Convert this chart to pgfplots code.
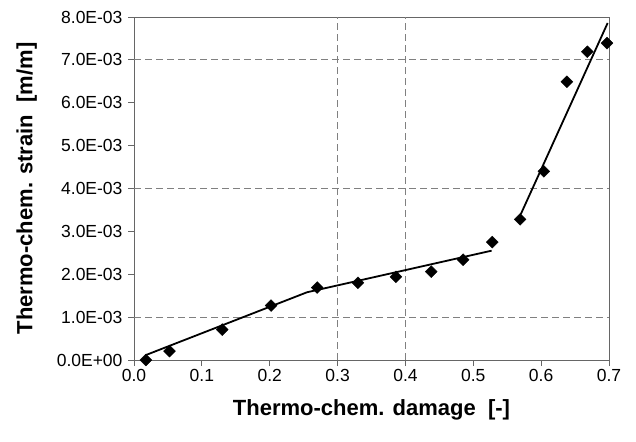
\documentclass[border=0pt]{standalone}
\usepackage{fontspec}
\setmainfont{Liberation Sans}
\usepackage{pgfplots}
\pgfplotsset{compat=1.18}
\begin{document}
\begin{tikzpicture}
\begin{axis}[
  scale only axis,
  width=475pt, height=343pt,
  xmin=0, xmax=0.7, ymin=0, ymax=0.008,
  xtick={0,0.1,0.2,0.3,0.4,0.5,0.6,0.7},
  xticklabels={0.0,0.1,0.2,0.3,0.4,0.5,0.6,0.7},
  ytick={0,0.001,0.002,0.003,0.004,0.005,0.006,0.007,0.008},
  yticklabels={0.0E+00,1.0E-03,2.0E-03,3.0E-03,4.0E-03,5.0E-03,6.0E-03,7.0E-03,8.0E-03},
  scaled y ticks=false, scaled x ticks=false,
  xtick pos=bottom, ytick pos=left,
  tick align=outside,
  major tick length=6pt,
  tick style={black!60, line width=0.8pt},
  axis line style={black!60, line width=0.9pt},
  tick label style={font=\fontsize{17.5}{20}\selectfont},
  yticklabel style={xshift=-2pt},
  xlabel={Thermo-chem. damage\ \ [-]},
  ylabel={Thermo-chem. strain\ \ [m/m]},
  label style={font=\fontsize{22}{24}\selectfont\bfseries},
  xlabel style={at={(axis description cs:0.5,-0.1458)}, anchor=center},
  ylabel style={at={(axis description cs:-0.2260,0.5)}, anchor=center},
]
\begin{scope}[black!50, line width=0.8pt, dash pattern=on 7pt off 4pt]
\draw (axis cs:0.3,0) -- (axis cs:0.3,0.008);
\draw (axis cs:0.4,0) -- (axis cs:0.4,0.008);
\draw (axis cs:0,0.001) -- (axis cs:0.7,0.001);
\draw (axis cs:0,0.004) -- (axis cs:0.7,0.004);
\draw (axis cs:0,0.007) -- (axis cs:0.7,0.007);
\end{scope}
% fitted lines
\addplot[black, line width=1.8pt, no marks] coordinates {
(0.0174,0.000115) (0.255,0.00158) (0.527,0.00255)
};
\addplot[black, line width=1.8pt, no marks] coordinates {
(0.570,0.0034) (0.698,0.00786)
};
% measured points
\addplot[only marks, mark=square*, mark size=4.2pt, mark options={rotate=45, fill=black, draw=black}] coordinates {
(0.0174,0.0)
(0.0523,0.000208)
(0.130,0.000708)
(0.202,0.00127)
(0.270,0.00169)
(0.330,0.00180)
(0.386,0.00194)
(0.438,0.00206)
(0.485,0.00234)
(0.528,0.00275)
(0.569,0.00328)
(0.604,0.00440)
(0.638,0.00649)
(0.668,0.00719)
(0.697,0.00739)
};
\end{axis}
\pgfresetboundingbox
\path[use as bounding box] ([shift={(-134pt,-81pt)}]current axis.south west) rectangle ([shift={(27pt,17pt)}]current axis.north east);
\end{tikzpicture}
\end{document}
